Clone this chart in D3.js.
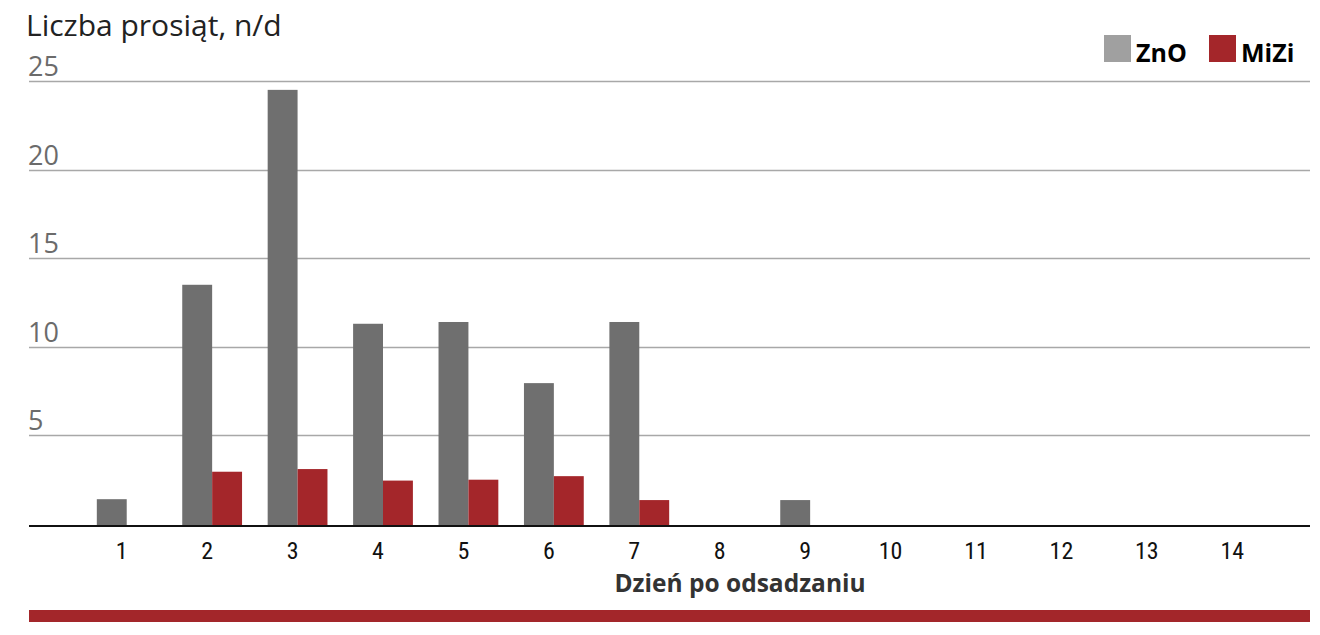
<!DOCTYPE html>
<html><head><meta charset="utf-8">
<script src="https://cdn.jsdelivr.net/npm/d3@7"></script>
<style>body{margin:0;background:#fff}svg{display:block}</style>
</head><body>
<script>
const categories = [1,2,3,4,5,6,7,8,9,10,11,12,13,14];
const znoValues  = [1.4,13.5,24.5,11.3,11.4,7.95,11.4,0,1.35,0,0,0,0,0];
const miziValues = [0,2.95,3.1,2.45,2.5,2.7,1.35,0,0,0,0,0,0,0];
const yTicks = [5,10,15,20,25];
const seriesNames = ["ZnO","MiZi"];
const seriesColors = ["#6f6f6f","#a4262a"];
const legendColors = ["#a0a0a0","#a4262a"];

const W=1320,H=635;
const svg=d3.select("body").append("svg").attr("width",W).attr("height",H);

const x=d3.scaleBand().domain(categories).range([84,1280]).paddingInner(0.3).paddingOuter(0.15);
const xs=d3.scaleBand().domain(seriesNames).range([0,x.bandwidth()]);
const y=d3.scaleLinear().domain([0,25]).range([524,81]);

// gridlines
svg.append("g").selectAll("line").data(yTicks).join("line")
  .attr("x1",29).attr("x2",1310).attr("y1",d=>Math.round(y(d))+0.5).attr("y2",d=>Math.round(y(d))+0.5)
  .attr("stroke","#a8a8a8").attr("stroke-width",1.3);
// y labels
svg.append("g").selectAll("text").data(yTicks).join("text")
  .attr("x",28).attr("y",d=>y(d)-5).text(d=>d)
  .attr("font-family","'Open Sans', 'DejaVu Sans', sans-serif").attr("font-size",27)
  .attr("fill","#6b6b6b");

// bars
const rows=categories.map((c,i)=>({c,vals:[znoValues[i],miziValues[i]]}));
const g=svg.append("g");
rows.forEach(r=>{
  r.vals.forEach((v,k)=>{
    if(v<=0) return;
    g.append("rect").attr("x",x(r.c)+xs(seriesNames[k])).attr("width",xs.bandwidth())
      .attr("y",y(v)).attr("height",y(0)-y(v)+2).attr("fill",seriesColors[k]);
  });
});

// x axis line
svg.append("line").attr("x1",29).attr("x2",1310).attr("y1",526).attr("y2",526)
  .attr("stroke","#111").attr("stroke-width",2);

// x labels
svg.append("g").selectAll("text").data(categories).join("text")
  .attr("x",d=>x(d)+x.bandwidth()/2-5).attr("y",559).attr("text-anchor","middle").text(d=>d)
  .attr("font-family","'Liberation Sans Narrow','Roboto Condensed','Liberation Sans',sans-serif")
  .attr("font-size",24).attr("fill","#111");

// x title
svg.append("text").attr("x",740).attr("y",592).attr("text-anchor","middle").text("Dzień po odsadzaniu")
  .attr("font-family","'Open Sans','DejaVu Sans',sans-serif").attr("font-weight","bold").attr("font-size",24.5).attr("fill","#333");

// y title
svg.append("text").attr("x",26).attr("y",36).text("Liczba prosiąt, n/d")
  .attr("font-family","'Open Sans','DejaVu Sans',sans-serif").attr("font-size",30).attr("fill","#222");

// legend
const lg=svg.append("g");
const legX=[1104,1209];
seriesNames.forEach((n,k)=>{
  lg.append("rect").attr("x",legX[k]).attr("y",35).attr("width",27).attr("height",27).attr("fill",legendColors[k]);
  lg.append("text").attr("x",legX[k]+32).attr("y",62).text(n)
    .attr("font-family","'Open Sans','DejaVu Sans',sans-serif").attr("font-weight","bold").attr("font-size",25).attr("fill","#000");
});

// bottom red band
svg.append("rect").attr("x",29).attr("y",610).attr("width",1281).attr("height",12).attr("fill","#a3262a");
</script>
</body></html>
